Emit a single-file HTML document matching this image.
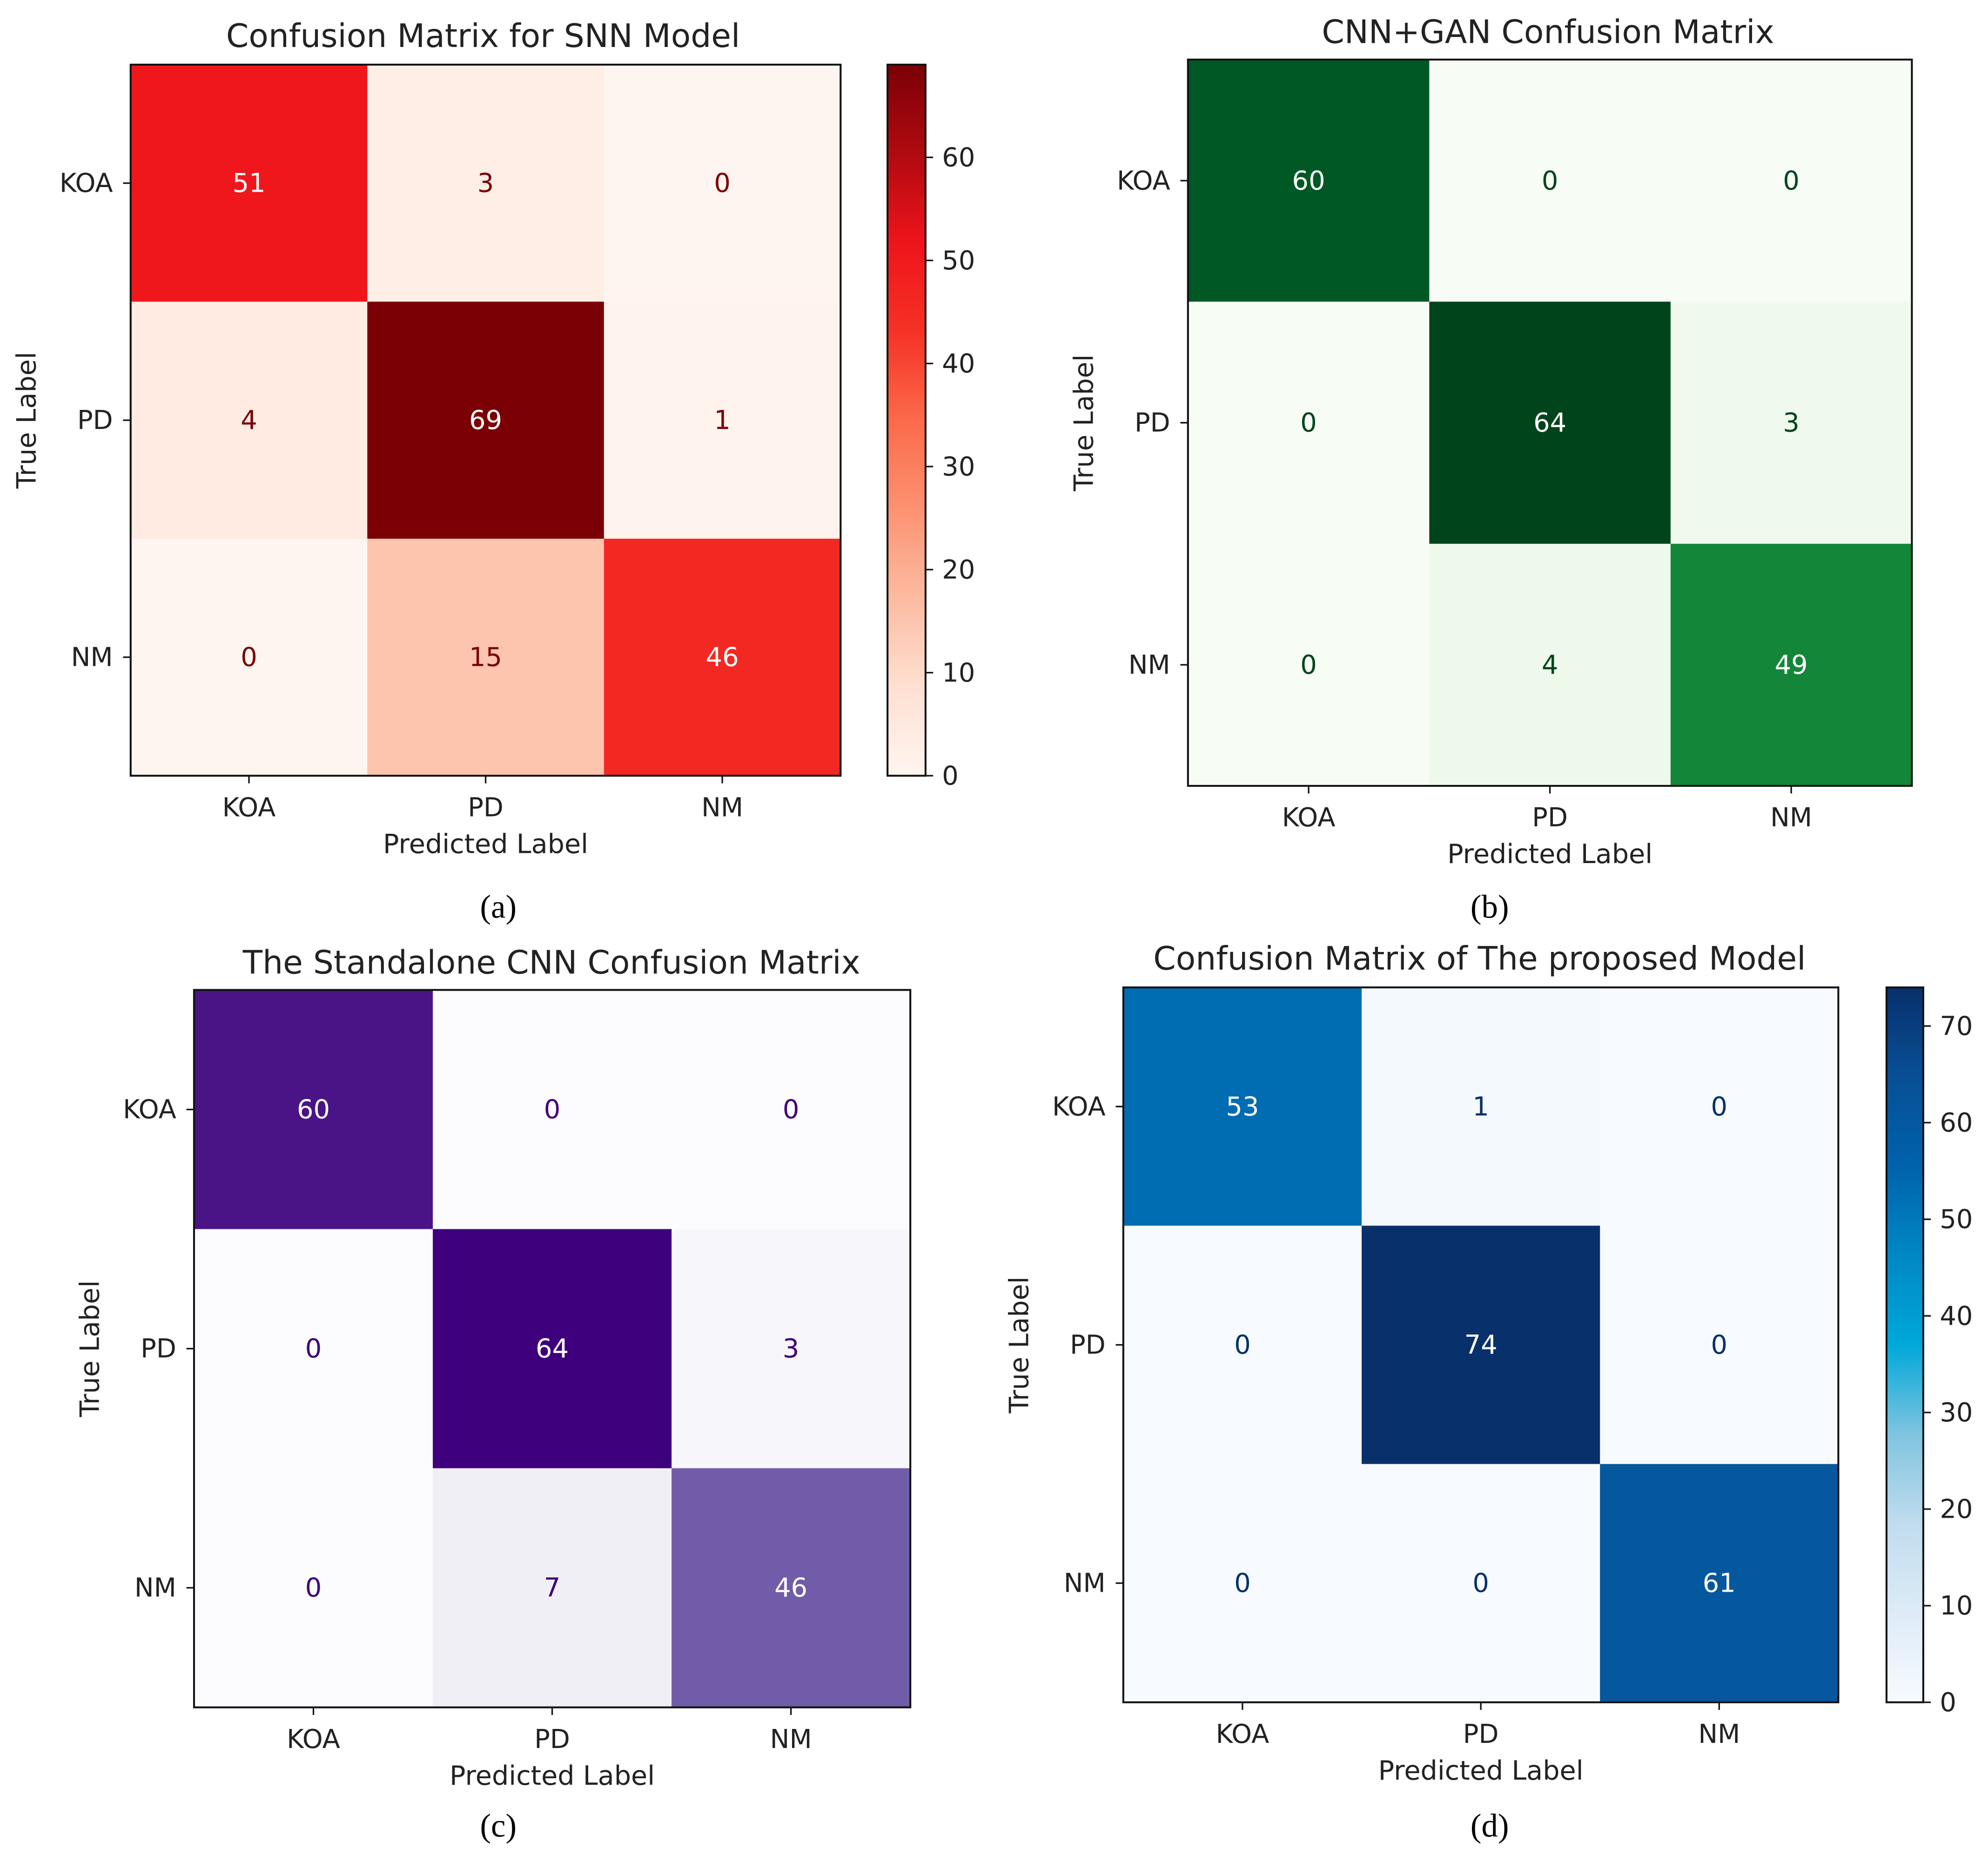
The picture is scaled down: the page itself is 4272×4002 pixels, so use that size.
<!DOCTYPE html>
<html><head><meta charset="utf-8"><style>
html,body{margin:0;padding:0;background:#fff}
svg{display:block}
text{font-family:"DejaVu Sans","Liberation Sans",sans-serif}
text.cap{font-family:"Liberation Serif",serif}
</style></head><body>
<svg id="fig" width="4272" height="4002" viewBox="0 0 1568 1469" xmlns="http://www.w3.org/2000/svg"></svg>
<script>
const categories = ["KOA","PD","NM"];
const snnValues = [[51,3,0],[4,69,1],[0,15,46]];
const ganValues = [[60,0,0],[0,64,3],[0,4,49]];
const cnnValues = [[60,0,0],[0,64,3],[0,7,46]];
const proposedValues = [[53,1,0],[0,74,0],[0,0,61]];
const snnCbarTicks = [0,10,20,30,40,50,60];
const proposedCbarTicks = [0,10,20,30,40,50,60,70];

const NS="http://www.w3.org/2000/svg";
const svg=document.getElementById('fig');
function mk(tag,attrs,parent){const e=document.createElementNS(NS,tag);for(const k in attrs)e.setAttribute(k,attrs[k]);(parent||svg).appendChild(e);return e;}
function hex(h){return [parseInt(h.slice(1,3),16),parseInt(h.slice(3,5),16),parseInt(h.slice(5,7),16)];}
function cmap(stops,t){t=Math.max(0,Math.min(1,t));const n=stops.length-1;const f=t*n;const i=Math.min(n-1,Math.floor(f));const u=f-i;const a=hex(stops[i]),b=hex(stops[i+1]);return 'rgb('+a.map((v,k)=>Math.round(v+(b[k]-v)*u)).join(',')+')';}
const REDS=["#fff5f0","#fee0d2","#fcbba1","#fc9272","#fb6a4a","#f53225","#ee141b","#b00a10","#7a0006"];
const GREENS=["#f7fcf5","#e5f5e0","#c7e9c0","#a1d99b","#74c476","#41ab5d","#168a3c","#006d2c","#00441b"];
const PURPLES=["#fcfbfd","#efedf5","#dadaeb","#bcbddc","#9e9ac8","#807dba","#6a51a3","#54278f","#3f007d"];
const BLUES=["#f7fbff","#deebf7","#c0dcee","#80c4e0","#00a8d8","#0088c4","#0062aa","#084f95","#08306b"];

const panels=[
 {id:'a',title:'Confusion Matrix for SNN Model',data:snnValues,stops:REDS,x0:103,x1:663,y0:51,y1:612,tx:381,ty:37,cap:'(a)',capx:393,capy:724,cbar:{x0:700,x1:730,ticks:snnCbarTicks}},
 {id:'b',title:'CNN+GAN Confusion Matrix',data:ganValues,stops:GREENS,x0:937,x1:1508,y0:47,y1:620,tx:1221,ty:34,cap:'(b)',capx:1175,capy:724,cbar:null},
 {id:'c',title:'The Standalone CNN Confusion Matrix',data:cnnValues,stops:PURPLES,x0:153,x1:718,y0:781,y1:1347,tx:435,ty:768,cap:'(c)',capx:393,capy:1449,cbar:null},
 {id:'d',title:'Confusion Matrix of The proposed Model',data:proposedValues,stops:BLUES,x0:886,x1:1450,y0:779,y1:1343,tx:1167,ty:765,cap:'(d)',capx:1175,capy:1449,cbar:{x0:1488,x1:1517,ticks:proposedCbarTicks}}
];

panels.forEach(p=>{
  const g=mk('g',{});
  
  
  const flat=p.data.flat();
  const vmax=Math.max(...flat), vmin=Math.min(...flat);
  const n=categories.length;
  const cw=(p.x1-p.x0)/n, ch=(p.y1-p.y0)/n;
  const xs=i=>p.x0+cw*(i+0.5), ys=i=>p.y0+ch*(i+0.5);
  const dark=p.stops[p.stops.length-1];
  p.data.forEach((row,r)=>row.forEach((v,c)=>{
    const rect=mk('rect',{x:p.x0+cw*c,y:p.y0+ch*r,width:cw+0.5,height:ch+0.5,fill:cmap(p.stops,(v-vmin)/(vmax-vmin))},g);
    
    
    const t=mk('text',{x:xs(c),y:ys(r)+7,'text-anchor':'middle','font-size':20.5,fill:v>(vmax+vmin)/2?'#ffffff':dark},g);
    t.textContent=v;
    
    
  }));
  const frame=mk('rect',{x:p.x0,y:p.y0,width:p.x1-p.x0,height:p.y1-p.y0,fill:'none',stroke:'#111',"stroke-width":1.5},g);
  
  
  categories.forEach((cat,i)=>{
    mk('line',{x1:p.x0-6,x2:p.x0,y1:ys(i),y2:ys(i),stroke:'#111','stroke-width':1.2},g);
    const yl=mk('text',{x:p.x0-14,y:ys(i)+7,'text-anchor':'end','font-size':20.5,fill:'#222'},g);
    yl.textContent=cat;
    
    
    mk('line',{x1:xs(i),x2:xs(i),y1:p.y1,y2:p.y1+6,stroke:'#111','stroke-width':1.2},g);
    const xl=mk('text',{x:xs(i),y:p.y1+32,'text-anchor':'middle','font-size':20.5,fill:'#222'},g);
    xl.textContent=cat;
    
    
  });
  const title=mk('text',{x:p.tx,y:p.ty,'text-anchor':'middle','font-size':25.5,fill:'#222'},g);
  title.textContent=p.title;
  
  
  const xlab=mk('text',{x:(p.x0+p.x1)/2,y:p.y1+61,'text-anchor':'middle','font-size':21,fill:'#222'},g);
  xlab.textContent='Predicted Label';
  
  
  const yc=(p.y0+p.y1)/2, yx=p.x0-75;
  const ylab=mk('text',{x:yx,y:yc,'text-anchor':'middle','font-size':21,fill:'#222',transform:'rotate(-90 '+yx+' '+yc+')'},g);
  ylab.textContent='True Label';
  
  
  const cap=mk('text',{x:p.capx,y:p.capy,'text-anchor':'middle','font-size':26,fill:'#000','class':'cap',style:'font-family:"Liberation Serif",serif'},g);
  cap.textContent=p.cap;
  
  
  if(p.cbar){
    const cb=p.cbar;
    const gid='grad'+p.id;
    const defs=mk('defs',{},g);
    const lg=mk('linearGradient',{id:gid,x1:0,y1:1,x2:0,y2:0},defs);
    for(let k=0;k<=40;k++){mk('stop',{offset:k/40,'stop-color':cmap(p.stops,k/40)},lg);}
    const cr=mk('rect',{x:cb.x0,y:p.y0,width:cb.x1-cb.x0,height:p.y1-p.y0,fill:'url(#'+gid+')',stroke:'#111','stroke-width':1.5},g);
    
    
    const cy=v=>p.y1-(v-vmin)/(vmax-vmin)*(p.y1-p.y0);
    cb.ticks.forEach(v=>{
      mk('line',{x1:cb.x1,x2:cb.x1+6,y1:cy(v),y2:cy(v),stroke:'#111','stroke-width':1.2},g);
      const tl=mk('text',{x:cb.x1+13,y:cy(v)+7,'font-size':20.5,fill:'#222'},g);
      tl.textContent=v;
      
      
    });
  }
});
</script>
</body></html>
